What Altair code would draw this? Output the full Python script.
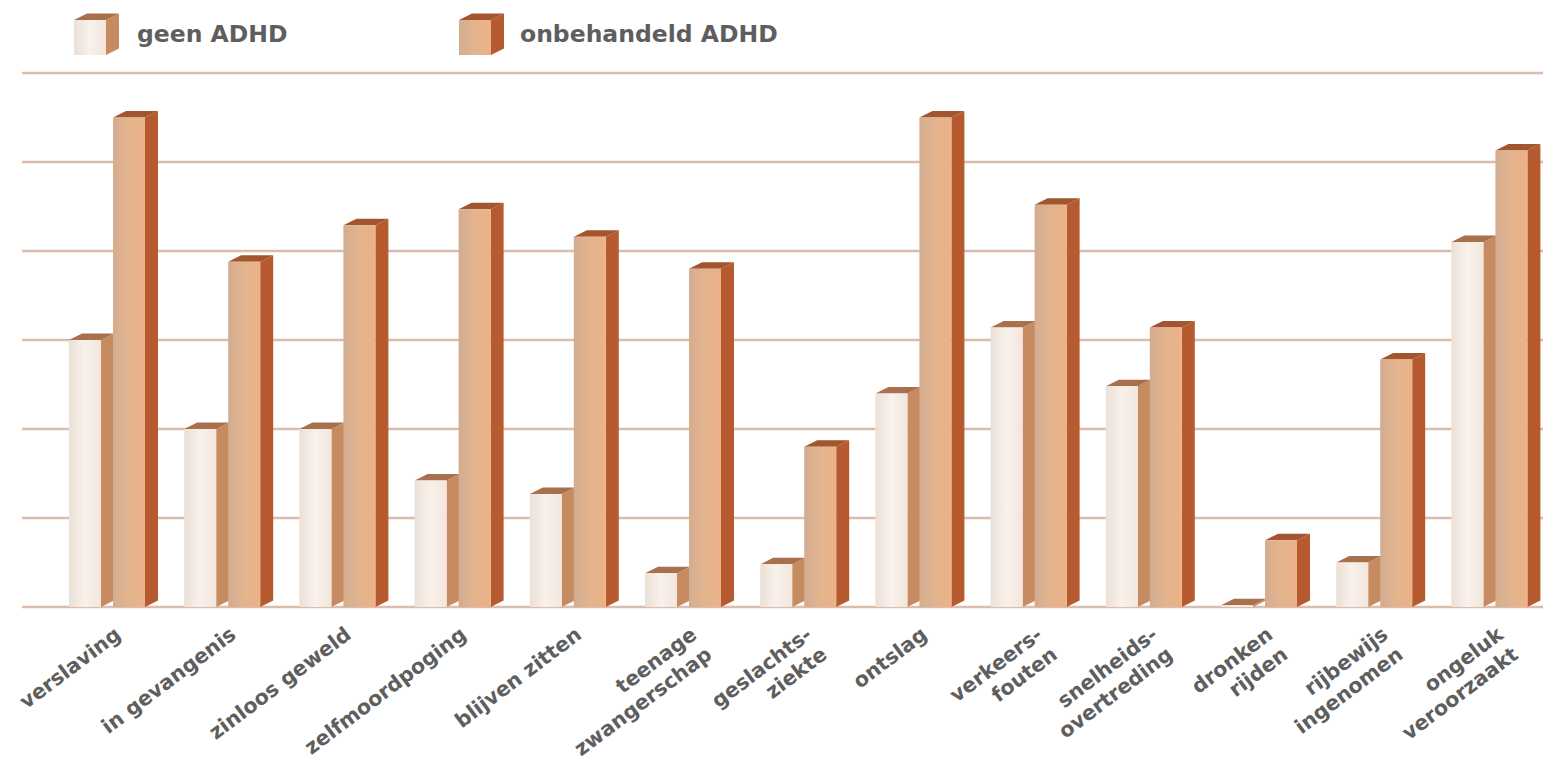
import json
import altair as alt
import pandas as pd

# Categories; a line break splits a label over two rotated lines
categories = [
    "verslaving", "in gevangenis", "zinloos geweld", "zelfmoordpoging", "blijven zitten",
    "teenage\nzwangerschap", "geslachts-\nziekte", "ontslag", "verkeers-\nfouten",
    "snelheids-\novertreding", "dronken\nrijden", "rijbewijs\ningenomen", "ongeluk\nveroorzaakt",
]
geen_adhd = [30.0, 20.0, 20.0, 14.2, 12.7, 3.8, 4.8, 24.0, 31.4, 24.8, 0.2, 5.0, 41.0]
onbehandeld_adhd = [55.0, 38.8, 42.9, 44.7, 41.6, 38.0, 18.0, 55.0, 45.2, 31.4, 7.5, 27.8, 51.3]
grid_values = [0, 10, 20, 30, 40, 50, 60]
legend_names = ["geen ADHD", "onbehandeld ADHD"]

# Pixel frame of the drawing
WIDTH, HEIGHT, BOTTOM_ROOM = 1543, 607, 154
STEP_PX, ORIGIN_PX = 115.2, 113
UNIT_PX = 8.9

X_DOMAIN = [-ORIGIN_PX / STEP_PX, (WIDTH - ORIGIN_PX) / STEP_PX]
Y_DOMAIN = [0, HEIGHT / UNIT_PX]

# Box geometry in scale units
BAR_W = 32 / STEP_PX
DEPTH_X = 13 / STEP_PX
DEPTH_Y = 6.5 / UNIT_PX
GEEN_LEFT = -44 / STEP_PX

COLORS = {
    "geen": dict(side="#c68b60", top="#a9704e",
                 front=["#ece0d6", "#f8f1ec", "#f3e6dc"]),
    "onb": dict(side="#b65a30", top="#a2552f",
                front=["#d3ad90", "#e3b48e", "#ecb288"]),
}


def box_faces(key, x0, y0, y1):
    """Vertices of the side and top parallelograms of one box."""
    x1 = x0 + BAR_W
    side = [(x1, y1, y0), (x1 + DEPTH_X, y1 + DEPTH_Y, y0 + DEPTH_Y)]
    top = [
        (x0, y1, y1),
        (x0 + DEPTH_X, y1 + DEPTH_Y, y1),
        (x1, y1 + DEPTH_Y, y1),
        (x1 + DEPTH_X, y1 + DEPTH_Y, y1 + DEPTH_Y),
    ]
    rows = []
    for face, pts in (("side", side), ("top", top)):
        for x, hi, lo in pts:
            rows.append(dict(box=f"{key}-{x0:.3f}-{face}", face=face, series=key,
                             x=x, hi=hi, lo=lo))
    return rows


front_rows, face_rows = [], []
for i, (a, b) in enumerate(zip(geen_adhd, onbehandeld_adhd)):
    for key, x0, v in (("geen", i + GEEN_LEFT, a), ("onb", float(i), b)):
        front_rows.append(dict(series=key, x=x0, x2=x0 + BAR_W, lo=0.0, hi=v))
        face_rows += box_faces(key, x0, 0.0, v)

# Legend boxes share the same construction as the bars
LEG_LO, LEG_HI = (HEIGHT - 55) / UNIT_PX, (HEIGHT - 20) / UNIT_PX
for key, x_px in (("geen", 74), ("onb", 459)):
    x0 = (x_px - ORIGIN_PX) / STEP_PX
    front_rows.append(dict(series=key, x=x0, x2=x0 + BAR_W, lo=LEG_LO, hi=LEG_HI))
    face_rows += box_faces(key, x0, LEG_LO, LEG_HI)

fronts = pd.DataFrame(front_rows)
faces = pd.DataFrame(face_rows)

x_scale = alt.Scale(domain=X_DOMAIN, range=[0, WIDTH], nice=False, zero=False)
y_scale = alt.Scale(domain=Y_DOMAIN, range=[HEIGHT, 0], nice=False, zero=False)

label_js = json.dumps(categories)
x_axis = alt.Axis(
    values=list(range(len(categories))),
    labelExpr=f"split({label_js}[datum.value], '\\n')",
    labelAngle=-37, labelAlign="right", labelBaseline="top",
    labelPadding=17, labelOffset=-1, labelFont="DejaVu Sans", labelFontSize=20.5,
    labelFontWeight="bold", labelColor="#5e5e5e", labelOverlap=False, labelBound=False,
    labelFlush=False, labelLineHeight=25, labelLimit=400,
    ticks=False, domain=False, grid=False, title=None,
)

X = alt.X("x:Q", scale=x_scale, axis=x_axis)
Y = alt.Y("hi:Q", scale=y_scale, axis=None)

grid = pd.DataFrame({"v": grid_values, "x": [22 / STEP_PX - ORIGIN_PX / STEP_PX] * len(grid_values),
                     "x2": [X_DOMAIN[1]] * len(grid_values)})
grid_layer = alt.Chart(grid).mark_rule(color="#dcbdad", strokeWidth=2.6).encode(
    x=X,
    x2="x2:Q",
    y=alt.Y("v:Q", scale=y_scale, axis=None),
)


def face_layer(key, face):
    subset = faces[(faces.series == key) & (faces.face == face)]
    return alt.Chart(subset).mark_area(color=COLORS[key][face], opacity=1).encode(
        x=X, y=Y, y2="lo:Q", detail="box:N",
    )


def front_layer(key):
    subset = fronts[fronts.series == key]
    stops = COLORS[key]["front"]
    gradient = alt.LinearGradient(
        gradient="linear", x1=0, x2=1, y1=0, y2=0,
        stops=[alt.GradientStop(color=stops[0], offset=0),
               alt.GradientStop(color=stops[1], offset=0.5),
               alt.GradientStop(color=stops[2], offset=1)],
    )
    return alt.Chart(subset).mark_bar(fill=gradient).encode(x=X, x2="x2:Q", y=Y, y2="lo:Q")


legend_text = pd.DataFrame({
    "name": legend_names,
    "x": [(137 - ORIGIN_PX) / STEP_PX, (520 - ORIGIN_PX) / STEP_PX],
    "hi": [(HEIGHT - 35) / UNIT_PX] * 2,
})
legend_layer = alt.Chart(legend_text).mark_text(
    align="left", baseline="middle", font="DejaVu Sans", fontSize=23.5,
    fontWeight="bold", color="#5e5e5e",
).encode(x=X, y=Y, text="name:N")

chart = alt.layer(
    grid_layer,
    face_layer("geen", "side"), face_layer("geen", "top"), front_layer("geen"),
    face_layer("onb", "side"), face_layer("onb", "top"), front_layer("onb"),
    legend_layer,
).properties(
    width=WIDTH, height=HEIGHT,
    autosize=alt.AutoSizeParams(type="none"),
    padding={"left": 0, "top": 0, "right": 0, "bottom": BOTTOM_ROOM},
    background="white",
).configure_view(stroke=None)

chart.save("out.html", embed_options={"renderer": "svg", "actions": False})
